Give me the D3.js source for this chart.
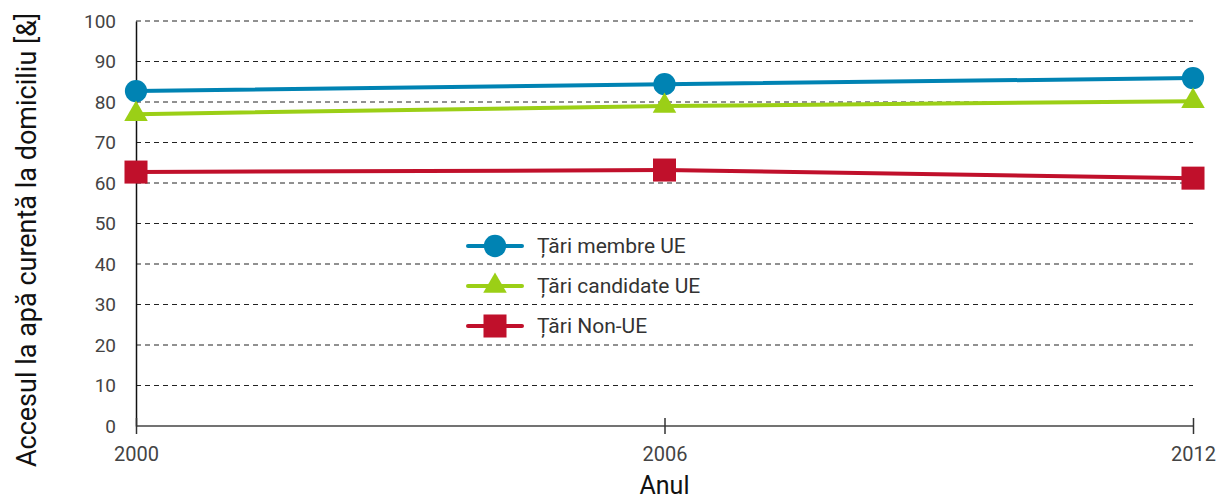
<!DOCTYPE html>
<html>
<head>
<meta charset="utf-8">
<script src="https://cdn.jsdelivr.net/npm/d3@7"></script>
<style>
  body { margin:0; background:#fff; }
  text { font-family: Roboto, sans-serif; }
</style>
</head>
<body>
<svg width="1218" height="497"></svg>
<script>
const years = [2000, 2006, 2012];
const yTicks = [0, 10, 20, 30, 40, 50, 60, 70, 80, 90, 100];
const membre = [82.7, 84.4, 85.9];
const candidate = [77.0, 79.0, 80.2];
const nonUE = [62.7, 63.2, 61.2];
const seriesNames = ['Țări membre UE', 'Țări candidate UE', 'Țări Non-UE'];
const colors = ['#0083b3', '#9bcf16', '#c0102b'];
const symbols = [d3.symbolCircle, d3.symbolTriangle, d3.symbolSquare];

const series = [membre, candidate, nonUE].map((vals, i) => ({
    name: seriesNames[i],
    color: colors[i],
    symbol: symbols[i],
    values: vals.map((v, j) => ({ year: years[j], value: v }))
}));

const svg = d3.select('svg');
const margin = { top:21, right:25, bottom:71, left:136 };
const width = +svg.attr('width');
const height = +svg.attr('height');
const innerWidth = width - margin.left - margin.right;
const innerHeight = height - margin.top - margin.bottom;

const xscale = d3.scaleLinear().domain([2000, 2012]).range([0, innerWidth]);
const yscale = d3.scaleLinear().domain([0, 100]).range([innerHeight, 0]);

const g = svg.append('g').attr('transform', `translate(${margin.left},${margin.top})`);

// dashed grid
g.append('g').selectAll('line').data(yTicks.filter(d => d > 0))
  .enter().append('line')
    .attr('x1', 0).attr('x2', innerWidth)
    .attr('y1', d => yscale(d)).attr('y2', d => yscale(d))
    .attr('stroke', '#222').attr('stroke-width', 1)
    .attr('stroke-dasharray', '5,4');

// y axis
const yAxisG = g.append('g')
  .call(d3.axisLeft(yscale).tickValues(yTicks).tickSize(0).tickPadding(20));
yAxisG.select('.domain').attr('stroke', '#111').attr('stroke-width', 1.5);
yAxisG.selectAll('.tick text')
  .attr('font-family', 'Roboto, sans-serif').attr('font-size', 19).attr('fill', '#444');

// x axis
const xAxisG = g.append('g')
  .attr('transform', `translate(0,${innerHeight})`)
  .call(d3.axisBottom(xscale).tickValues(years).tickFormat(d3.format('d')).tickSize(8).tickPadding(8));
xAxisG.select('.domain').attr('stroke', '#444').attr('stroke-width', 1.5).attr('d', `M0,0H${innerWidth}`);
xAxisG.selectAll('.tick line').attr('stroke', '#333').attr('stroke-width', 1.5).attr('y1', -8).attr('y2', 8);
xAxisG.selectAll('.tick text')
  .attr('font-family', 'Roboto, sans-serif').attr('font-size', 20).attr('fill', '#444')
  .attr('y', 21).attr('dy', '0.71em');

svg.append('text')
  .attr('x', margin.left + xscale(2006)).attr('y', 494)
  .attr('text-anchor', 'middle')
  .attr('font-size', 25).attr('fill', '#111')
  .text('Anul');

svg.append('text')
  .attr('transform', `translate(36,240) rotate(-90)`)
  .attr('text-anchor', 'middle')
  .attr('font-size', 27).attr('fill', '#111')
  .text('Accesul la apă curentă la domiciliu [&]');

// lines + markers
const line = d3.line().x(d => xscale(d.year)).y(d => yscale(d.value));
const symbolSize = [390, 240, 530];

series.forEach((s, i) => {
  g.append('path')
    .datum(s.values)
    .attr('fill', 'none')
    .attr('stroke', s.color)
    .attr('stroke-width', 4)
    .attr('d', line);
  g.selectAll(null).data(s.values)
    .enter().append('path')
      .attr('transform', d => `translate(${xscale(d.year)},${yscale(d.value)})`)
      .attr('d', d3.symbol().type(s.symbol).size(symbolSize[i]))
      .attr('fill', s.color);
});

// legend
const legend = svg.append('g').attr('transform', 'translate(468,246)');
series.forEach((s, i) => {
  const row = legend.append('g').attr('transform', `translate(0,${i * 40})`);
  row.append('line')
    .attr('x1', 0).attr('x2', 54).attr('y1', 0).attr('y2', 0)
    .attr('stroke', s.color).attr('stroke-width', 4).attr('stroke-linecap', 'round');
  row.append('path')
    .attr('transform', 'translate(27,0)')
    .attr('d', d3.symbol().type(s.symbol).size(symbolSize[i]))
    .attr('fill', s.color);
  row.append('text')
    .attr('x', 69).attr('y', 0).attr('dy', '0.35em')
    .attr('font-size', 21).attr('fill', '#333')
    .text(s.name);
});
</script>
</body>
</html>
